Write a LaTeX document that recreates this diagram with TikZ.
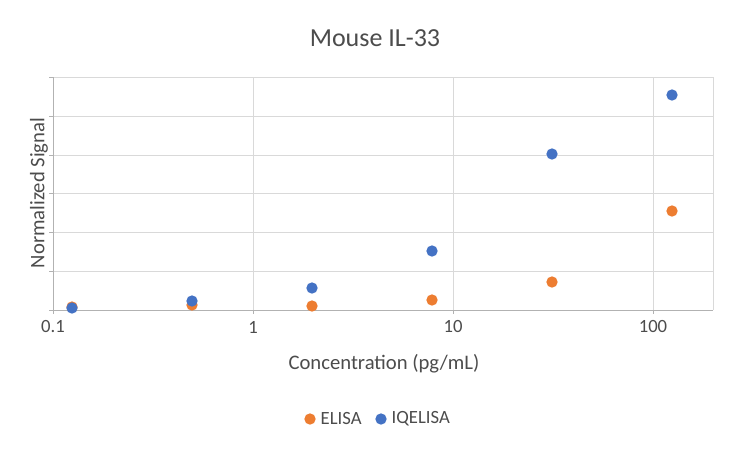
\documentclass[tikz,border=0pt]{standalone}
\usepackage{fontspec}
\setmainfont{Carlito}
\begin{document}
\begin{tikzpicture}[x=0.75pt,y=-0.75pt,
  grid/.style={draw=black!15,line width=0.75pt},
  elisa/.style={circle,inner sep=0pt,minimum size=8.5pt},
  iqe/.style={circle,inner sep=0pt,minimum size=8.5pt},
  lbl/.style={text=black!70,font=\fontsize{15.5}{18}\selectfont},
  tick/.style={text=black!70,font=\fontsize{14}{16}\selectfont}]
\definecolor{orng}{HTML}{ED7D31}
\definecolor{blu}{HTML}{4472C4}
\tikzset{elisa/.append style={fill=orng},iqe/.append style={fill=blu}}
\useasboundingbox (0,0) rectangle (750,450);
\fill[white] (0,0) rectangle (750,450);
% grid
\foreach \y in {77,116,155,193,232,271}{\draw[grid] (53,\y) -- (713,\y); \draw[black!30] (49,\y)--(53,\y);}
\foreach \x in {253,453,653}{\draw[grid] (\x,77) -- (\x,310);}
\draw[grid] (713,77) -- (713,310);
\draw[black!30,line width=0.75pt] (53,77) -- (53,310) -- (713,310);
\draw[black!30] (49,310)--(53,310);
\foreach \x in {53,253,453,653}{\draw[black!30] (\x,310)--(\x,314);}
% tick labels
\node[tick] (t1) at (53,327) {0.1};
\node[tick] (t2) at (253,327) {1};
\node[tick] (t3) at (453,327) {10};
\node[tick] (t4) at (653,327) {100};
% titles
\node[text=black!70,font=\fontsize{19.5}{22}\selectfont] (title) at (375,38) {Mouse IL-33};
\node[lbl] (xl) at (384,364) {Concentration (pg/mL)};
\node[lbl,rotate=90] (yl) at (39,193) {Normalized Signal};
% data
\foreach \x/\y [count=\i] in {72/307,192/305,312/306,432/300,552/282,672/211}{\node[elisa] (e\i) at (\x,\y) {};}
\foreach \x/\y [count=\i] in {72/308,192/301,312/288,432/251,552/154,672/95}{\node[iqe] (q\i) at (\x,\y) {};}
% legend
\node[elisa] (le) at (310,419) {};
\node[tick,anchor=west] (let) at (316,419) {ELISA};
\node[iqe] (lq) at (381,419) {};
\node[tick,anchor=west] (lqt) at (387,419) {IQELISA};
\end{tikzpicture}
\end{document}
